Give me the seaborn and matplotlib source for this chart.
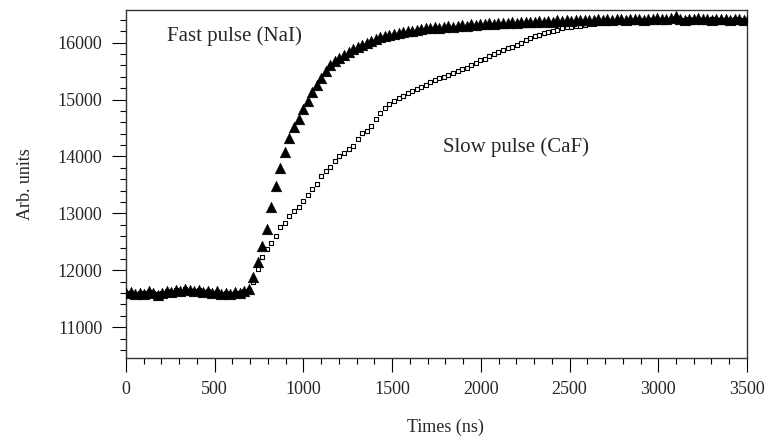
import numpy as np
import pandas as pd
import matplotlib
matplotlib.use("Agg")
import matplotlib.pyplot as plt
from matplotlib.ticker import MultipleLocator
import seaborn as sns

# sampling times (ns), one sample every 25.6 ns
times = [round(i * 25.6, 1) for i in range(141)]

fast_pulse = [
    11600, 11620, 11580, 11610, 11590, 11630, 11600, 11570, 11610, 11640,
    11620, 11660, 11640, 11680, 11650, 11630, 11660, 11620, 11640, 11600,
    11630, 11580, 11610, 11590, 11620, 11600, 11640, 11680,
    11880, 12150, 12420, 12720, 13120, 13480, 13800, 14080, 14320, 14510,
    14650, 14830, 14970, 15130, 15260, 15380, 15510, 15610, 15680, 15730,
    15790, 15830, 15880, 15920, 15960, 15990, 16020, 16060, 16090, 16110,
    16130, 16150, 16170, 16180, 16200, 16210, 16220, 16240, 16250, 16250,
    16270, 16260, 16280, 16290, 16280, 16300, 16310, 16300, 16320, 16310,
    16330, 16320, 16340, 16330, 16350, 16340, 16350, 16360, 16350, 16370,
    16360, 16370, 16360, 16380, 16370, 16380, 16370, 16390, 16380, 16390,
    16380, 16400, 16390, 16400, 16390, 16400, 16410, 16400, 16410, 16400,
    16420, 16410, 16400, 16410, 16420, 16410, 16400, 16420, 16410, 16430,
    16420, 16410, 16440, 16460, 16420, 16400, 16410, 16420, 16430, 16410,
    16420, 16400, 16410, 16420, 16410, 16400, 16420, 16410, 16400, 16420,
    16410, 16420, 16410,
]

slow_pulse = [
    11600, 11610, 11590, 11600, 11600, 11620, 11610, 11580, 11600, 11630,
    11620, 11650, 11640, 11670, 11640, 11630, 11650, 11620, 11630, 11600,
    11620, 11590, 11600, 11590, 11610, 11600, 11630, 11660,
    11800, 12020, 12230, 12380, 12480, 12610, 12760, 12840, 12960, 13050,
    13120, 13220, 13330, 13420, 13510, 13650, 13740, 13820, 13920, 14000,
    14060, 14140, 14190, 14310, 14410, 14440, 14530, 14650, 14760, 14850,
    14920, 14980, 15030, 15070, 15110, 15150, 15180, 15220, 15260, 15300,
    15340, 15370, 15400, 15440, 15470, 15500, 15530, 15560, 15600, 15650,
    15690, 15720, 15760, 15800, 15840, 15870, 15900, 15930, 15960, 16000,
    16040, 16080, 16110, 16140, 16170, 16190, 16210, 16230, 16250, 16270,
    16280, 16290, 16300, 16310, 16320, 16330, 16340, 16340, 16350, 16360,
    16360, 16370, 16370, 16380, 16380, 16380, 16390, 16390, 16390, 16400,
    16400, 16400, 16400, 16400, 16390, 16400, 16410, 16400, 16400, 16390,
    16400, 16410, 16400, 16400, 16390, 16400, 16410, 16400, 16400, 16390,
    16400, 16410, 16400,
]

assert len(times) == len(fast_pulse) == len(slow_pulse)

x_ticks = [0, 500, 1000, 1500, 2000, 2500, 3000, 3500]
y_ticks = [11000, 12000, 13000, 14000, 15000, 16000]

df_fast = pd.DataFrame({"t": times, "v": fast_pulse})
df_slow = pd.DataFrame({"t": times, "v": slow_pulse})

sns.set_theme(style="white")
plt.rcParams["font.family"] = ["Liberation Serif", "DejaVu Serif"]

fig = plt.figure(figsize=(7.7, 4.45), dpi=100)
ax = fig.add_axes([0.1636, 0.1955, 0.8065, 0.781])

sns.scatterplot(data=df_slow, x="t", y="v", ax=ax, marker="s", s=12,
                facecolor="white", edgecolor="black", linewidth=0.8, zorder=2)
sns.scatterplot(data=df_fast, x="t", y="v", ax=ax, marker="^", s=60,
                color="black", edgecolor="black", linewidth=0.3, zorder=3)

ax.set_xlim(0, 3500)
ax.set_ylim(10460, 16565)
ax.set_xticks(x_ticks)
ax.set_yticks(y_ticks)
ax.xaxis.set_minor_locator(MultipleLocator(100))
ax.yaxis.set_minor_locator(MultipleLocator(200))
ax.tick_params(axis="both", which="major", direction="out", length=10,
               width=0.8, color="black", labelsize=13,
               bottom=True, left=True, top=False, right=False)
ax.tick_params(axis="x", which="major", pad=6.5)
ax.tick_params(axis="y", which="major", pad=7)
ax.tick_params(axis="both", which="minor", direction="out", length=4.5,
               width=0.8, color="black",
               bottom=True, left=True, top=False, right=False)
for side in ["left", "bottom", "top", "right"]:
    ax.spines[side].set_color("#333333")
    ax.spines[side].set_linewidth(1.0)

ax.set_xlabel("Times (ns)", fontsize=13, labelpad=15)
ax.xaxis.label.set_x(0.514)
ax.set_ylabel("Arb. units", fontsize=13, labelpad=17)

ax.text(231, 16120, "Fast pulse (NaI)", fontsize=15, ha="left", va="center")
ax.text(1787, 14168, "Slow pulse (CaF)", fontsize=15, ha="left", va="center")

fig.savefig("out.png", dpi=100)
